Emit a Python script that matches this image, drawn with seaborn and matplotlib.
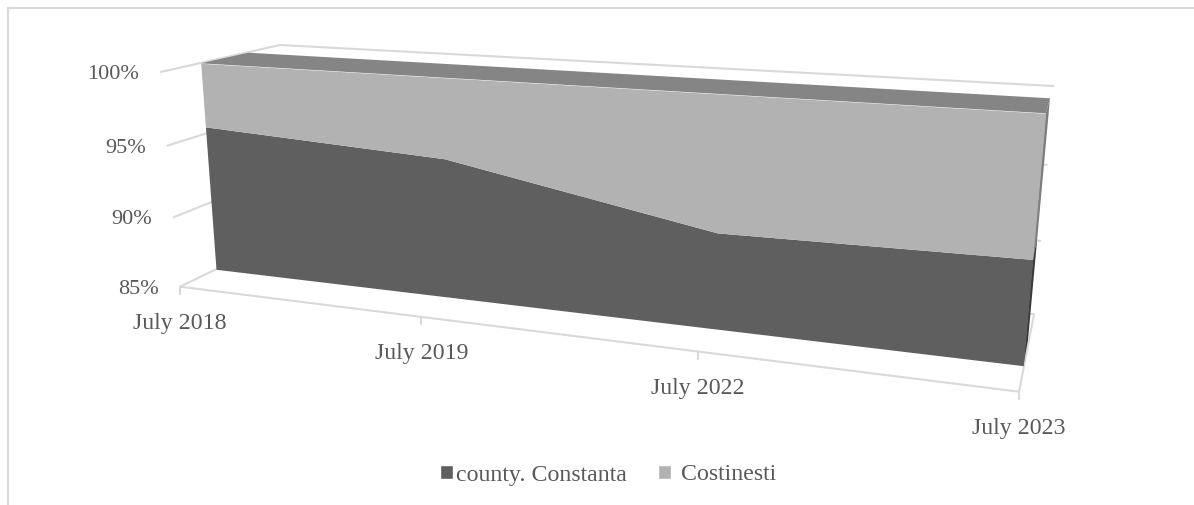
import numpy as np
import matplotlib
matplotlib.use("Agg")
import matplotlib.pyplot as plt
from matplotlib.patches import Patch
from matplotlib.transforms import Transform
import seaborn as sns

# Share of arrivals per period, in percent
periods = ["July 2018", "July 2019", "July 2022", "July 2023"]
county_share = [95.5, 94.6, 91.3, 91.5]
costinesti_share = [4.5, 5.4, 8.7, 8.5]
axis_ticks = [85, 90, 95, 100]
series_names = ["county. Constanta", "Costinesti"]

DARK, LIGHT = "#5f5f5f", "#b2b2b2"
TOP_FACE, SIDE_LIGHT, SIDE_DARK = "#858585", "#7d7d7d", "#3a3a3a"
GRID, TEXT = "#d9d9d9", "#595959"
FONT_SIZE = 17.2
VALUE_FONT_SIZE = 16
V_MIN, V_MAX = axis_ticks[0], axis_ticks[-1]


class PlaneProjection(Transform):
    """Perspective map from (period index, percent) onto one depth plane of the 3D box."""
    input_dims = output_dims = 2
    is_separable = False
    has_inverse = False

    def __init__(self, bottom_left, bottom_right, top_right, top_left, x_max):
        super().__init__()
        self.x_max = x_max
        src = [(0, 0), (1, 0), (1, 1), (0, 1)]
        dst = [bottom_left, bottom_right, top_right, top_left]
        rows, rhs = [], []
        for (u, t), (px, py) in zip(src, dst):
            rows.append([u, t, 1, 0, 0, 0, -u * px, -t * px])
            rows.append([0, 0, 0, u, t, 1, -u * py, -t * py])
            rhs += [px, py]
        self.h = np.append(np.linalg.solve(np.array(rows, float), np.array(rhs, float)), 1).reshape(3, 3)

    def transform_non_affine(self, values):
        values = np.asarray(values, float)
        u = values[:, 0] / self.x_max
        t = (values[:, 1] - V_MIN) / (V_MAX - V_MIN)
        p = self.h @ np.column_stack([u, t, np.ones_like(u)]).T
        return (p[:2] / p[2]).T


sns.set_theme(style="white")
plt.rcParams["font.family"] = ["Liberation Serif", "DejaVu Serif"]

fig = plt.figure(figsize=(11.94, 5.05), dpi=100, facecolor="white")
ax = fig.add_axes([0, 0, 1, 1])
ax.set_xlim(0, 1194)
ax.set_ylim(505, 0)
ax.set_autoscale_on(False)
ax.axis("off")

x_idx = np.arange(len(periods), dtype=float)
x_max = x_idx[-1]
county = np.array(county_share)
stack_top = county + np.array(costinesti_share)

# Depth planes of the box, in canvas pixels: wall edge, area front, area back, back wall
wall_edge = PlaneProjection((180, 286.7), (1019, 391.7), (1041, 128.7), (160.7, 72), x_max)
area_front = PlaneProjection((216, 269.3), (1023.3, 365.7), (1045.7, 113.3), (200.7, 63.3), x_max)
area_back = PlaneProjection((265, 245.6), (1028, 340), (1050, 98.3), (248.3, 52.7), x_max)
back_wall = PlaneProjection((297, 230), (1034, 314.3), (1053.3, 86), (280, 45), x_max)


def line(xs, ys, **kw):
    sns.lineplot(x=xs, y=ys, ax=ax, sort=False, estimator=None, legend=False,
                 color=GRID, linewidth=1.5, **kw)


# Outer frame: top and left rules only
line([7.5, 1194], [7.5, 7.5], zorder=1)
line([7.5, 7.5], [7.5, 505], zorder=1)

# Left wall and back wall gridlines
for v in axis_ticks:
    a = wall_edge.transform_non_affine(np.array([[0.0, v]]))[0]
    b = back_wall.transform_non_affine(np.array([[0.0, v]]))[0]
    c = back_wall.transform_non_affine(np.array([[x_max, v]]))[0]
    line([a[0], b[0], c[0]], [a[1], b[1], c[1]], zorder=1)
    ax.annotate(f"{v}%", xy=a, xytext=(-21.5, -2.7), textcoords="offset pixels",
                ha="right", va="center", fontsize=VALUE_FONT_SIZE, color=TEXT)

# Floor edges, axis ticks and period labels
line([0, x_max], [V_MIN, V_MIN], transform=wall_edge + ax.transData, zorder=1)
floor_corner = wall_edge.transform_non_affine(np.array([[x_max, V_MIN]]))[0]
floor_back = back_wall.transform_non_affine(np.array([[x_max, V_MIN]]))[0]
line([floor_corner[0], floor_back[0]], [floor_corner[1], floor_back[1]], zorder=1)
for i, name in zip(x_idx, periods):
    p = wall_edge.transform_non_affine(np.array([[i, V_MIN]]))[0]
    line([p[0], p[0]], [p[1], p[1] + 7], zorder=1)
    ax.annotate(name, xy=p, xytext=(0, -37), textcoords="offset pixels",
                ha="center", va="center", fontsize=FONT_SIZE, color=TEXT)


def face(plane_a, pts_a, plane_b, pts_b, color, zorder):
    """Fill a quad spanning two depth planes."""
    q = np.vstack([plane_a.transform_non_affine(np.array(pts_a, float)),
                   plane_b.transform_non_affine(np.array(pts_b, float))])
    ax.fill(q[:, 0], q[:, 1], color=color, linewidth=0, zorder=zorder)


# Top face and right-hand side of the stacked areas
face(area_front, [[0, stack_top[0]], [x_max, stack_top[-1]]],
     area_back, [[x_max, stack_top[-1]], [0, stack_top[0]]], TOP_FACE, 3)
face(area_front, [[x_max, stack_top[-1]], [x_max, county[-1]]],
     area_back, [[x_max, county[-1]], [x_max, stack_top[-1]]], SIDE_LIGHT, 3)
face(area_front, [[x_max, county[-1]], [x_max, V_MIN]],
     area_back, [[x_max, V_MIN], [x_max, county[-1]]], SIDE_DARK, 3)

# Front faces of the two stacked series
front = area_front + ax.transData
ax.fill_between(x_idx, V_MIN, county, transform=front, color=DARK, linewidth=0, zorder=4)
ax.fill_between(x_idx, county, stack_top, transform=front, color=LIGHT, linewidth=0, zorder=4)

handles = [Patch(facecolor=DARK, label=series_names[0]),
           Patch(facecolor=LIGHT, label=" " + series_names[1])]
ax.legend(handles=handles, loc="center", bbox_to_anchor=(608, 475),
          bbox_transform=ax.transData, ncol=2, frameon=False, fontsize=FONT_SIZE,
          labelcolor=TEXT, handlelength=0.55, handleheight=0.55, handletextpad=0.15,
          columnspacing=1.3, borderpad=0, borderaxespad=0)

ax.set_xlim(0, 1194)
ax.set_ylim(505, 0)
ax.set_xlabel("")
ax.set_ylabel("")
fig.savefig("out.png", dpi=100, facecolor="white")
